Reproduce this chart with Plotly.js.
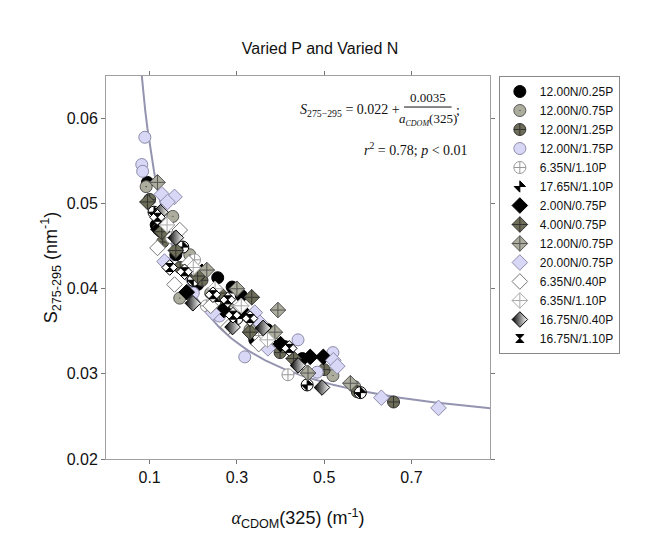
<!DOCTYPE html>
<html>
<head>
<meta charset="utf-8">
<script src="https://cdn.plot.ly/plotly-3.0.1.min.js"></script>
<style>html,body{margin:0;padding:0;background:#fff;}#chart{width:648px;height:542px;}</style>
</head>
<body>
<div id="chart"></div>
<script>
// ---- data ----
const seriesNames = [
  "12.00N/0.25P","12.00N/0.75P","12.00N/1.25P","12.00N/1.75P","6.35N/1.10P",
  "17.65N/1.10P","2.00N/0.75P","4.00N/0.75P","12.00N/0.75P","20.00N/0.75P",
  "6.35N/0.40P","6.35N/1.10P","16.75N/0.40P","16.75N/1.10P"
];
const x_N12_P025 = [0.095,0.115,0.16,0.21,0.256,0.289,0.31,0.341,0.37,0.41,0.45];
const y_N12_P025 = [0.0525,0.0475,0.0440,0.0405,0.0413,0.0402,0.0392,0.0340,0.0352,0.0332,0.0318];
const x_N12_P075c = [0.092,0.12,0.153,0.169,0.192,0.24,0.28,0.33,0.52,0.57];
const y_N12_P075c = [0.0520,0.0470,0.0485,0.0389,0.0440,0.0395,0.0378,0.0352,0.0298,0.0285];
const x_N12_P125 = [0.10,0.13,0.17,0.22,0.27,0.36,0.399,0.50,0.576,0.659];
const y_N12_P125 = [0.0505,0.0455,0.0425,0.0410,0.0380,0.0345,0.0325,0.0305,0.0279,0.0267];
const x_N12_P175 = [0.089,0.082,0.084,0.14,0.20,0.26,0.318,0.44,0.484,0.52];
const y_N12_P175 = [0.0578,0.0546,0.0538,0.0430,0.0395,0.0368,0.0320,0.0340,0.0302,0.0325];
const x_N635_P110c = [0.15,0.203,0.23,0.29,0.35,0.417,0.45];
const y_N635_P110c = [0.0460,0.0434,0.0380,0.0372,0.0345,0.0299,0.0305];
const x_N1765_P110 = [0.11,0.176,0.20,0.25,0.30,0.38,0.461,0.583];
const y_N1765_P110 = [0.0490,0.0449,0.0410,0.0385,0.0365,0.0338,0.0287,0.0278];
const x_N2_P075 = [0.12,0.185,0.22,0.27,0.32,0.40,0.468,0.498];
const y_N2_P075 = [0.0470,0.0396,0.0420,0.0375,0.0370,0.0335,0.0320,0.0320];
const x_N4_P075 = [0.095,0.128,0.16,0.21,0.26,0.334,0.330,0.43];
const y_N4_P075 = [0.0502,0.0467,0.0445,0.0415,0.0395,0.0390,0.0349,0.0318];
const x_N12_P075d = [0.118,0.231,0.394,0.387,0.463,0.56,0.30];
const y_N12_P075d = [0.0525,0.0422,0.0375,0.0349,0.0301,0.0289,0.0400];
const x_N20_P075 = [0.128,0.157,0.141,0.134,0.245,0.341,0.353,0.371,0.521,0.53,0.631,0.762];
const y_N20_P075 = [0.0511,0.0508,0.0502,0.0432,0.0372,0.0372,0.0360,0.0330,0.0316,0.0309,0.0272,0.0260];
const x_N635_P040 = [0.118,0.157,0.169,0.19,0.24,0.28,0.35];
const y_N635_P040 = [0.0448,0.0405,0.0469,0.0430,0.0380,0.0355,0.0335];
const x_N635_P110d = [0.14,0.20,0.25,0.31,0.37];
const y_N635_P110d = [0.0475,0.0425,0.0400,0.0380,0.0340];
const x_N1675_P040 = [0.125,0.16,0.199,0.29,0.36,0.44,0.495];
const y_N1675_P040 = [0.0490,0.0460,0.0383,0.0355,0.0354,0.0310,0.0284];
const x_N1675_P110 = [0.118,0.146,0.18,0.245,0.279,0.291,0.33,0.42];
const y_N1675_P110 = [0.0484,0.0425,0.0420,0.0393,0.0387,0.0369,0.0365,0.0330];

// fit shown on the chart: S = fitA + fitB / a_CDOM(325)
const fitA = 0.022, fitB = 0.0035;
const fitX = [];
for (let v = 0.075; v <= 0.8801; v += 0.005) fitX.push(+v.toFixed(3));
const fitY = fitX.map(v => fitA + fitB / v);

const xTicks = [0.1, 0.3, 0.5, 0.7];
const yTicks = [0.02, 0.03, 0.04, 0.05, 0.06];

// ---- styling ----
const CS = 12, DS = 12;
const olive = '#6e6e58', greyF = '#adad9e', lav = '#d8d8f6', lavL = '#8c8caa';
function tr(name, x, y, symbol, size, color, lineColor, extra) {
  const t = {type:'scatter', mode:'markers', name:name, x:x, y:y,
    marker:{symbol:symbol, size:size, color:color, line:{color:lineColor, width:1}},
    hoverinfo:'skip'};
  if (extra) Object.assign(t.marker, extra);
  return t;
}
const traces = [];
traces.push({type:'scatter', mode:'lines', x:fitX, y:fitY, showlegend:false,
  line:{color:'#9494b0', width:2}, hoverinfo:'skip'});
traces.push(tr(seriesNames[0], x_N12_P025, y_N12_P025, 'circle', CS, '#000', '#000'));
traces.push(tr(seriesNames[1], x_N12_P075c, y_N12_P075c, 'circle-dot', CS, greyF, '#555'));
traces.push(tr(seriesNames[2], x_N12_P125, y_N12_P125, 'circle-cross', CS, olive, '#333'));
traces.push(tr(seriesNames[3], x_N12_P175, y_N12_P175, 'circle', CS, lav, lavL));
traces.push(tr(seriesNames[4], x_N635_P110c, y_N635_P110c, 'circle-cross', CS, '#fff', '#999'));
// checkered circle: white circle + black rotated bowtie
let b6 = tr(seriesNames[5], x_N1765_P110, y_N1765_P110, 'circle', CS, '#fff', '#000');
b6.showlegend = false; traces.push(b6);
traces.push(tr(seriesNames[5], x_N1765_P110, y_N1765_P110, 'bowtie', 8, '#000', '#000', {angle:-45}));
traces.push(tr(seriesNames[6], x_N2_P075, y_N2_P075, 'diamond', DS, '#000', '#000'));
traces.push(tr(seriesNames[7], x_N4_P075, y_N4_P075, 'diamond-cross', DS, olive, '#333'));
traces.push(tr(seriesNames[8], x_N12_P075d, y_N12_P075d, 'diamond-cross', DS, greyF, '#555'));
traces.push(tr(seriesNames[9], x_N20_P075, y_N20_P075, 'diamond', DS, lav, lavL));
traces.push(tr(seriesNames[10], x_N635_P040, y_N635_P040, 'diamond', DS, '#fff', '#777'));
traces.push(tr(seriesNames[11], x_N635_P110d, y_N635_P110d, 'diamond-cross', DS, '#fff', '#aaa'));
traces.push(tr(seriesNames[12], x_N1675_P040, y_N1675_P040, 'diamond', DS, '#000', '#000',
  {gradient:{type:'horizontal', color:'#fff'}}));
let b14 = tr(seriesNames[13], x_N1675_P110, y_N1675_P110, 'diamond', DS, '#fff', '#000');
b14.showlegend = false; traces.push(b14);
traces.push(tr(seriesNames[13], x_N1675_P110, y_N1675_P110, 'hourglass', 8, '#000', '#000'));

const ser = "Liberation Serif, Times New Roman, serif";
const eqFont = {family:ser, size:14, color:'#111'};
const eqFontS = {family:ser, size:13, color:'#111'};
const layout = {
  width:648, height:542,
  margin:{l:106, r:158, t:76, b:83},
  paper_bgcolor:'#fff', plot_bgcolor:'#fff',
  font:{family:'Liberation Sans, Arial, sans-serif', color:'#111'},
  title:{text:'Varied P and Varied N', x:0.494, xanchor:'center', y:0.91, yanchor:'middle',
    font:{size:16, color:'#111'}},
  xaxis:{range:[0,0.88], tickvals:xTicks, ticktext:xTicks.map(v=>v.toFixed(1)),
    showgrid:false, zeroline:false, showline:true, linecolor:'#a0a0a0', linewidth:1,
    mirror:'ticks', ticks:'outside', ticklen:4, tickcolor:'#777',
    tickfont:{size:16}, title:{text:'<span style="font-family:Liberation Serif;"><i>α</i></span><sub>CDOM</sub>(325) (m<sup>-1</sup>)', font:{size:18}, standoff:26}},
  yaxis:{range:[0.02,0.065], tickvals:yTicks, ticktext:yTicks.map(v=>v.toFixed(2)),
    showgrid:false, zeroline:false, showline:true, linecolor:'#a0a0a0', linewidth:1,
    mirror:'ticks', ticks:'outside', ticklen:4, tickcolor:'#777',
    tickfont:{size:16}, title:{text:'S<sub>275-295</sub> (nm<sup>-1</sup>)', font:{size:18}, standoff:4}},
  legend:{x:1.023, xanchor:'left', y:1.0, yanchor:'top', bgcolor:'#fff',
    bordercolor:'#888', borderwidth:1, font:{size:12, color:'#111'}, tracegroupgap:0,
    itemwidth:30},
  showlegend:true,
  shapes:[{type:'line', xref:'paper', yref:'paper', x0:0.776, x1:0.900, y0:0.919, y1:0.919,
    line:{color:'#111', width:1}}],
  annotations:[
    {xref:'paper', yref:'paper', x:0.770, y:0.911, xanchor:'right', yanchor:'middle', showarrow:false,
     text:'<i>S</i><sub>275−295</sub>\u00a0=\u00a00.022\u00a0+', font:eqFont},
    {xref:'paper', yref:'paper', x:0.838, y:0.943, xanchor:'center', yanchor:'middle', showarrow:false,
     text:'0.0035', font:eqFontS},
    {xref:'paper', yref:'paper', x:0.838, y:0.886, xanchor:'center', yanchor:'middle', showarrow:false,
     text:'<i>a</i><sub><i style="font-size:8px">CDOM</i></sub>(325)', font:eqFontS},
    {xref:'paper', yref:'paper', x:0.905, y:0.909, xanchor:'left', yanchor:'middle', showarrow:false,
     text:';', font:eqFont},
    {xref:'paper', yref:'paper', x:0.948, y:0.809, xanchor:'right', yanchor:'middle', showarrow:false,
     text:'<i>r</i><sup>2</sup>\u00a0=\u00a00.78;\u00a0<i>p</i>\u00a0&lt;\u00a00.01', font:eqFont}
  ]
};
Plotly.newPlot('chart', traces, layout, {displayModeBar:false, staticPlot:true});
</script>
</body>
</html>
